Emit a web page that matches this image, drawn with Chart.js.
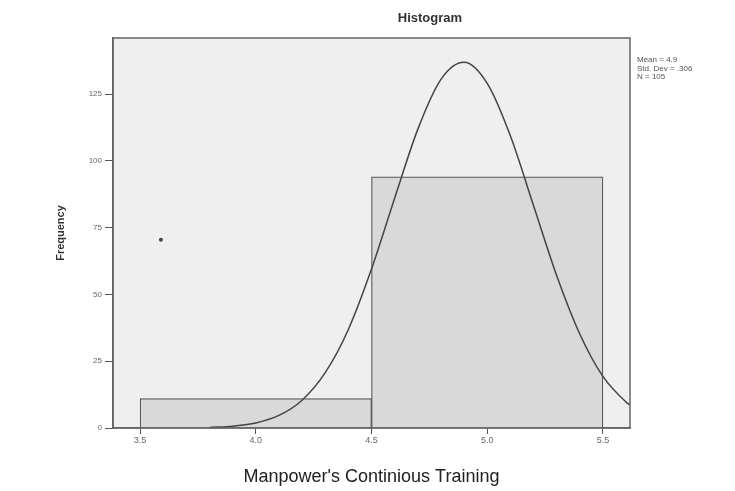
<!DOCTYPE html>
<html>
<head>
<meta charset="utf-8">
<script src="https://cdn.jsdelivr.net/npm/chart.js@4"></script>
<style>
	html, body { margin: 0; padding: 0; background: #ffffff; }
	#wrap { width: 735px; height: 491px; }
</style>
</head>
<body>
<div id="wrap"><canvas id="hist"></canvas></div>
<script>
// bins (centre of each bar) and counts
const binCenters = [4.0, 5.0];
const binCounts = [11, 94];

// normal curve
const curveX = [3.8, 3.9, 4.0, 4.1, 4.2, 4.3, 4.4, 4.5, 4.6, 4.7, 4.8, 4.9, 5.0, 5.1, 5.2, 5.3, 5.4, 5.5, 5.6, 5.617];
const curveY = [0.2, 0.7, 1.9, 4.7, 10.4, 20.7, 36.9, 59.5, 86, 111.8, 130.5, 136.9, 129, 109.4, 83.3, 57.1, 35.2, 19.3, 9.7, 8.6];

// stray dot in the plot
const dotX = [3.59];
const dotY = [70.5];

const xTicks = [3.5, 4.0, 4.5, 5.0, 5.5];
const yTicks = [0, 25, 50, 75, 100, 125];

const statsLines = ['Mean = 4.9', 'Std. Dev = .306', 'N = 105'];

const FONT = "'Liberation Sans', Arial, sans-serif";

const framePlugin = {
	id: 'frame',
	beforeDraw(chart) {
		const a = chart.chartArea;
		const ctx = chart.ctx;
		ctx.save();
		ctx.fillStyle = '#efefef';
		ctx.fillRect(a.left, a.top, a.right - a.left, a.bottom - a.top);
		ctx.restore();
	},
	afterDraw(chart) {
		const a = chart.chartArea;
		const ctx = chart.ctx;
		ctx.save();
		ctx.strokeStyle = '#666666';
		ctx.lineWidth = 1.5;
		ctx.strokeRect(a.left, a.top, a.right - a.left, a.bottom - a.top);
		// title
		ctx.fillStyle = '#333333';
		ctx.font = 'bold 13px ' + FONT;
		ctx.textAlign = 'center';
		ctx.textBaseline = 'middle';
		ctx.fillText('Histogram', a.left + 0.613 * (a.right - a.left), a.top - 20);
		// stats box
		ctx.font = '8px ' + FONT;
		ctx.textAlign = 'left';
		ctx.fillStyle = '#555555';
		statsLines.forEach((s, i) => {
			ctx.fillText(s, a.right + 7, a.top + 22 + i * 8.5);
		});
		ctx.restore();
	}
};

const histConfig = {
	type: 'bar',
	data: {
		datasets: [{
			type: 'bar',
			xAxisID: 'xBins',
			data: binCenters.map((x, i) => ({x: x, y: binCounts[i]})),
			backgroundColor: '#d9d9d9',
			borderColor: '#555555',
			borderWidth: 1.2,
			barPercentage: 1,
			categoryPercentage: 1,
			order: 2,
		}, {
			type: 'line',
			data: curveX.map((x, i) => ({x: x, y: curveY[i]})),
			borderColor: '#444444',
			borderWidth: 1.5,
			pointRadius: 0,
			cubicInterpolationMode: 'monotone',
			fill: false,
			order: 1,
		}, {
			type: 'scatter',
			data: dotX.map((x, i) => ({x: x, y: dotY[i]})),
			backgroundColor: '#444444',
			borderWidth: 0,
			pointRadius: 2,
			order: 0,
		}]
	},
	options: {
		responsive: true,
		maintainAspectRatio: false,
		animation: false,
		layout: {
			padding: {left: 50, right: 105, top: 38, bottom: 0}
		},
		plugins: {
			legend: {display: false},
			tooltip: {enabled: false},
		},
		scales: {
			xBins: {
				type: 'linear',
				display: false,
				offset: false,
				min: 3.383,
				max: 5.617,
				afterBuildTicks: (s) => { s.ticks = binCenters.map(v => ({value: v})); },
			},
			x: {
				type: 'linear',
				offset: false,
				min: 3.383,
				max: 5.617,
				afterBuildTicks: (s) => { s.ticks = xTicks.map(v => ({value: v})); },
				afterFit: (s) => { s.height = 63; },
				grid: {
					drawOnChartArea: false,
					offset: false,
					tickLength: 6,
					color: '#555555',
				},
				border: {color: '#555555', width: 1.5},
				ticks: {
					font: {family: FONT, size: 9},
					color: '#666666',
					padding: 1,
					maxRotation: 0,
					callback: (v) => v.toFixed(1),
				},
				title: {
					display: true,
					text: "Manpower's Continious Training",
					font: {family: FONT, size: 18},
					color: '#222222',
					padding: {top: 0, bottom: 3},
				}
			},
			y: {
				min: 0,
				max: 146,
				afterBuildTicks: (s) => { s.ticks = yTicks.map(v => ({value: v})); },
				afterFit: (s) => { s.width = 63; },
				grid: {
					drawOnChartArea: false,
					tickLength: 8,
					color: '#555555',
				},
				border: {color: '#555555', width: 1.5},
				ticks: {
					font: {family: FONT, size: 8},
					color: '#666666',
					padding: 3,
				},
				title: {
					display: true,
					text: 'Frequency',
					font: {family: FONT, size: 11, weight: 'bold'},
					color: '#333333',
					padding: {top: 4, bottom: 0},
				}
			}
		}
	},
	plugins: [framePlugin],
};

const histCtx = document.getElementById('hist');
const histPlot = new Chart(histCtx, histConfig);
</script>
</body>
</html>
